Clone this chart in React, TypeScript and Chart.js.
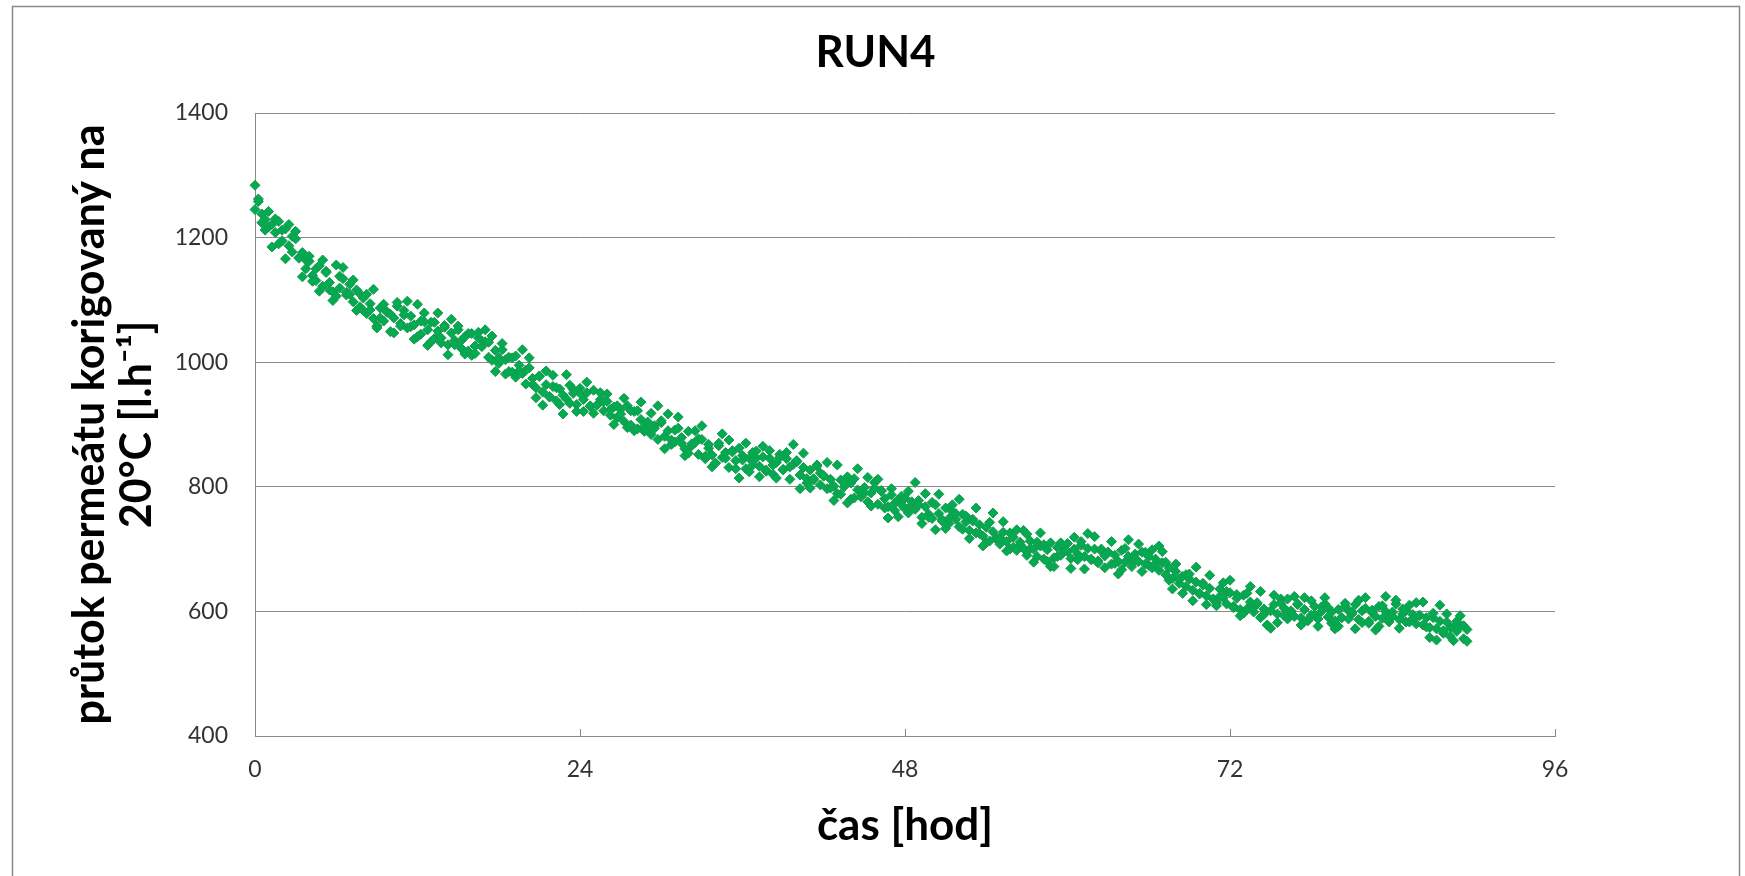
import { useEffect, useRef } from "react";
import { Chart, registerables } from "chart.js";

Chart.register(...registerables);

const CHART_TITLE = "RUN4";
const X_TITLE = "čas [hod]";
const Y_TITLE = ["průtok permeátu korigovaný na", "20°C [l.h⁻¹]"];
const X_TICKS = [0, 24, 48, 72, 96];
const Y_TICKS = [400, 600, 800, 1000, 1200, 1400];

// measurement time [h]
const TIME_H = [
  0, 0.25, 0.5, 0.75, 1, 1.25, 1.5, 1.75, 2, 2.25, 2.5, 2.75, 3, 3.25, 3.5, 3.75,
  4, 4.25, 4.5, 4.75, 5, 5.25, 5.5, 5.75, 6, 6.25, 6.5, 6.75, 7, 7.25, 7.5, 7.75,
  8, 8.25, 8.5, 8.75, 9, 9.25, 9.5, 9.75, 10, 10.25, 10.5, 10.75, 11, 11.25, 11.5, 11.75,
  12, 12.25, 12.5, 12.75, 13, 13.25, 13.5, 13.75, 14, 14.25, 14.5, 14.75, 15, 15.25, 15.5, 15.75,
  16, 16.25, 16.5, 16.75, 17, 17.25, 17.5, 17.75, 18, 18.25, 18.5, 18.75, 19, 19.25, 19.5, 19.75,
  20, 20.25, 20.5, 20.75, 21, 21.25, 21.5, 21.75, 22, 22.25, 22.5, 22.75, 23, 23.25, 23.5, 23.75,
  24, 24.25, 24.5, 24.75, 25, 25.25, 25.5, 25.75, 26, 26.25, 26.5, 26.75, 27, 27.25, 27.5, 27.75,
  28, 28.25, 28.5, 28.75, 29, 29.25, 29.5, 29.75, 30, 30.25, 30.5, 30.75, 31, 31.25, 31.5, 31.75,
  32, 32.25, 32.5, 32.75, 33, 33.25, 33.5, 33.75, 34, 34.25, 34.5, 34.75, 35, 35.25, 35.5, 35.75,
  36, 36.25, 36.5, 36.75, 37, 37.25, 37.5, 37.75, 38, 38.25, 38.5, 38.75, 39, 39.25, 39.5, 39.75,
  40, 40.25, 40.5, 40.75, 41, 41.25, 41.5, 41.75, 42, 42.25, 42.5, 42.75, 43, 43.25, 43.5, 43.75,
  44, 44.25, 44.5, 44.75, 45, 45.25, 45.5, 45.75, 46, 46.25, 46.5, 46.75, 47, 47.25, 47.5, 47.75,
  48, 48.25, 48.5, 48.75, 49, 49.25, 49.5, 49.75, 50, 50.25, 50.5, 50.75, 51, 51.25, 51.5, 51.75,
  52, 52.25, 52.5, 52.75, 53, 53.25, 53.5, 53.75, 54, 54.25, 54.5, 54.75, 55, 55.25, 55.5, 55.75,
  56, 56.25, 56.5, 56.75, 57, 57.25, 57.5, 57.75, 58, 58.25, 58.5, 58.75, 59, 59.25, 59.5, 59.75,
  60, 60.25, 60.5, 60.75, 61, 61.25, 61.5, 61.75, 62, 62.25, 62.5, 62.75, 63, 63.25, 63.5, 63.75,
  64, 64.25, 64.5, 64.75, 65, 65.25, 65.5, 65.75, 66, 66.25, 66.5, 66.75, 67, 67.25, 67.5, 67.75,
  68, 68.25, 68.5, 68.75, 69, 69.25, 69.5, 69.75, 70, 70.25, 70.5, 70.75, 71, 71.25, 71.5, 71.75,
  72, 72.25, 72.5, 72.75, 73, 73.25, 73.5, 73.75, 74, 74.25, 74.5, 74.75, 75, 75.25, 75.5, 75.75,
  76, 76.25, 76.5, 76.75, 77, 77.25, 77.5, 77.75, 78, 78.25, 78.5, 78.75, 79, 79.25, 79.5, 79.75,
  80, 80.25, 80.5, 80.75, 81, 81.25, 81.5, 81.75, 82, 82.25, 82.5, 82.75, 83, 83.25, 83.5, 83.75,
  84, 84.25, 84.5, 84.75, 85, 85.25, 85.5, 85.75, 86, 86.25, 86.5, 86.75, 87, 87.25, 87.5, 87.75,
  88, 88.25, 88.5, 88.75, 89, 89.25, 89.5,
];

// permeate flow corrected to 20 °C [l/h], reading A
const FLOW = [
  1284, 1262, 1238, 1229, 1242, 1221, 1208, 1226, 1195, 1214, 1187, 1202, 1210, 1168, 1176, 1150,
  1162, 1139, 1131, 1155, 1122, 1146, 1128, 1113, 1156, 1119, 1134, 1108, 1125, 1097, 1116, 1089,
  1103, 1078, 1094, 1070, 1058, 1087, 1066, 1081, 1049, 1071, 1090, 1062, 1083, 1055, 1074, 1060,
  1041, 1066, 1079, 1052, 1064, 1038, 1050, 1031, 1059, 1028, 1047, 1035, 1052, 1022, 1041, 1018,
  1046, 1014, 1039, 1025, 1033, 1008, 1042, 1019, 998, 1020, 1004, 985, 1007, 976, 995, 982,
  965, 991, 974, 959, 978, 952, 964, 945, 961, 938, 957, 947, 941, 963, 950, 932,
  958, 940, 951, 929, 955, 931, 940, 922, 937, 915, 928, 911, 924, 905, 930, 899,
  921, 893, 908, 889, 904, 884, 898, 876, 903, 881, 890, 868, 872, 894, 879, 861,
  889, 866, 871, 852, 876, 845, 862, 851, 838, 866, 847, 855, 831, 858, 842, 862,
  850, 829, 846, 835, 857, 833, 848, 825, 846, 820, 839, 852, 828, 845, 812, 836,
  840, 819, 831, 806, 827, 811, 833, 803, 818, 797, 812, 801, 789, 811, 800, 816,
  806, 782, 795, 784, 799, 776, 790, 807, 772, 794, 781, 768, 787, 762, 779, 771,
  782, 758, 776, 764, 778, 751, 768, 756, 749, 771, 757, 745, 766, 741, 760, 748,
  736, 756, 744, 730, 748, 726, 739, 721, 735, 713, 728, 716, 708, 727, 712, 700,
  719, 698, 711, 701, 690, 713, 700, 688, 705, 684, 699, 710, 686, 703, 690, 698,
  709, 685, 700, 692, 706, 688, 701, 683, 700, 681, 697, 689, 695, 676, 690, 680,
  698, 679, 688, 672, 692, 680, 695, 676, 688, 670, 684, 666, 678, 659, 670, 653,
  664, 645, 656, 640, 652, 634, 647, 628, 645, 625, 637, 620, 614, 636, 622, 612,
  630, 608, 621, 603, 626, 604, 615, 599, 612, 590, 604, 578, 573, 611, 596, 620,
  605, 588, 601, 592, 611, 590, 603, 585, 594, 608, 588, 600, 612, 591, 599, 585,
  603, 590, 608, 588, 596, 611, 587, 601, 605, 584, 598, 592, 608, 589, 600, 583,
  599, 612, 587, 596, 602, 583, 595, 580, 593, 578, 590, 574, 590, 572, 584, 565,
  583, 560, 575, 568, 577, 556, 571,
];

// permeate flow corrected to 20 °C [l/h], reading B
const FLOW_B = [
  1245, 1258, 1224, 1212, 1217, 1185, 1230, 1190, 1212, 1166, 1221, 1177, 1198, 1167, 1137, 1164,
  1170, 1130, 1150, 1114, 1164, 1144, 1116, 1099, 1106, 1138, 1152, 1112, 1109, 1132, 1083, 1110,
  1083, 1109, 1084, 1117, 1055, 1071, 1093, 1080, 1077, 1047, 1096, 1058, 1076, 1098, 1057, 1037,
  1093, 1045, 1065, 1027, 1033, 1064, 1079, 1039, 1056, 1012, 1069, 1028, 1058, 1035, 1013, 1046,
  1011, 1026, 1048, 1034, 1052, 1032, 1003, 985, 1007, 1030, 981, 1008, 984, 1010, 986, 1020,
  987, 1007, 964, 943, 977, 931, 986, 944, 979, 959, 932, 917, 980, 934, 956, 921,
  950, 921, 968, 930, 918, 931, 951, 937, 949, 924, 900, 930, 917, 942, 895, 922,
  890, 922, 936, 897, 891, 918, 894, 930, 906, 861, 917, 875, 891, 912, 870, 850,
  854, 869, 890, 877, 898, 849, 868, 832, 838, 870, 885, 846, 875, 856, 829, 814,
  843, 870, 824, 855, 846, 816, 865, 827, 858, 835, 814, 847, 827, 855, 832, 868,
  842, 797, 854, 813, 798, 813, 835, 822, 817, 839, 798, 778, 835, 788, 809, 774,
  780, 813, 829, 791, 790, 815, 769, 798, 812, 793, 766, 750, 797, 774, 752, 785,
  765, 793, 771, 807, 771, 741, 789, 751, 775, 731, 788, 747, 733, 749, 771, 757,
  780, 732, 753, 717, 745, 766, 725, 705, 710, 743, 758, 719, 718, 744, 697, 726,
  703, 731, 707, 730, 724, 701, 679, 711, 726, 707, 680, 672, 672, 688, 710, 698,
  696, 669, 719, 683, 712, 668, 725, 684, 720, 678, 700, 670, 695, 712, 677, 660,
  667, 701, 715, 680, 683, 708, 664, 695, 674, 699, 677, 705, 696, 679, 650, 636,
  676, 652, 629, 659, 660, 617, 671, 629, 642, 611, 658, 620, 609, 624, 646, 632,
  650, 606, 627, 593, 597, 629, 640, 606, 614, 632, 595, 578, 601, 626, 582, 613,
  593, 620, 599, 624, 612, 578, 622, 586, 617, 595, 576, 607, 622, 606, 581, 572,
  576, 590, 613, 601, 599, 572, 618, 582, 622, 581, 602, 570, 576, 609, 624, 589,
  592, 618, 573, 604, 583, 610, 588, 614, 594, 615, 575, 558, 597, 554, 610, 569,
  596, 574, 553, 584, 593, 577, 552,
];

const FONT = "Lato, 'Open Sans', 'DejaVu Sans', sans-serif";
const GRID = "#898989";
const W = 1745;
const H = 876;

const frame = {
  id: "frame",
  beforeDraw(chart: any) {
    const ctx = chart.ctx;
    ctx.save();
    ctx.fillStyle = "#ffffff";
    ctx.fillRect(0, 0, chart.width, chart.height);
    ctx.strokeStyle = "#8a8a8a";
    ctx.lineWidth = 1.5;
    ctx.beginPath();
    ctx.moveTo(12.5, chart.height);
    ctx.lineTo(12.5, 6.5);
    ctx.lineTo(1739.5, 6.5);
    ctx.lineTo(1739.5, chart.height);
    ctx.stroke();
    ctx.restore();
  },
};

const innerTicks = {
  id: "innerTicks",
  beforeDatasetsDraw(chart: any) {
    const xs = chart.scales.x;
    const ctx = chart.ctx;
    const bottom = chart.chartArea.bottom;
    ctx.save();
    ctx.strokeStyle = GRID;
    ctx.lineWidth = 1;
    xs.ticks.forEach((t: any) => {
      const px = Math.round(xs.getPixelForValue(t.value)) + 0.5;
      ctx.beginPath();
      ctx.moveTo(px, bottom);
      ctx.lineTo(px, bottom - 7);
      ctx.stroke();
    });
    ctx.restore();
  },
};

export default function App() {
  const ref = useRef<HTMLCanvasElement | null>(null);

  useEffect(() => {
    if (!ref.current) return;
    const points = TIME_H.flatMap((t, i) => [
      { x: t, y: FLOW[i] },
      { x: t, y: FLOW_B[i] },
    ]);
    const chart = new Chart(ref.current, {
      type: "scatter",
      data: {
        datasets: [
          {
            label: CHART_TITLE,
            data: points,
            pointStyle: "rectRot",
            pointRadius: 5,
            pointBackgroundColor: "#00AC4F",
            pointBorderColor: "#1E9650",
            pointBorderWidth: 1,
            clip: false,
          } as any,
        ],
      },
      options: {
        responsive: false,
        animation: false,
        devicePixelRatio: 1,
        layout: { padding: { left: 6, right: 0, top: 0, bottom: 0 } },
        plugins: {
          legend: { display: false },
          tooltip: { enabled: false },
          title: {
            display: true,
            text: CHART_TITLE,
            color: "#000000",
            font: { family: FONT, size: 44, weight: "bold", lineHeight: 1.2 },
            padding: { top: 26, bottom: 34.2 },
          },
        },
        scales: {
          x: {
            type: "linear",
            min: 0,
            max: 96,
            afterBuildTicks: (s: any) => {
              s.ticks = X_TICKS.map((v) => ({ value: v }));
            },
            afterFit: (s: any) => {
              s.height = H - 736;
            },
            grid: { drawOnChartArea: false, drawTicks: false },
            border: { display: true, color: GRID, width: 1 },
            ticks: {
              padding: 20,
              color: "#333333",
              font: { family: FONT, size: 23 },
              maxRotation: 0,
              callback: (v: any) => String(v),
            },
            title: {
              display: true,
              text: X_TITLE,
              color: "#000000",
              font: { family: FONT, size: 44, weight: "bold", lineHeight: 1.2 },
              padding: { top: 0, bottom: 24 },
            },
          },
          y: {
            type: "linear",
            min: 400,
            max: 1400,
            afterBuildTicks: (s: any) => {
              s.ticks = Y_TICKS.map((v) => ({ value: v }));
            },
            afterFit: (s: any) => {
              s.width = 255 - 6;
            },
            grid: { color: GRID, lineWidth: 1, drawTicks: false },
            border: { display: true, color: GRID, width: 1 },
            ticks: {
              padding: 27,
              color: "#333333",
              font: { family: FONT, size: 23 },
              callback: (v: any) => String(v),
            },
            title: {
              display: true,
              text: Y_TITLE,
              color: "#000000",
              font: { family: FONT, size: 43, weight: "bold", lineHeight: 1.1 },
              padding: { top: 60, bottom: 0 },
            },
          },
          yRight: {
            type: "linear",
            position: "right",
            display: true,
            grid: { display: false, drawTicks: false },
            border: { display: false },
            ticks: { display: false },
            afterFit: (s: any) => {
              s.width = W - 1555;
            },
          },
        },
      } as any,
      plugins: [frame, innerTicks],
    });
    return () => chart.destroy();
  }, []);

  return (
    <div style={{ position: "fixed", left: 0, top: 0, width: W, height: H, background: "#fff" }}>
      <canvas ref={ref} width={W} height={H} style={{ display: "block", width: W, height: H }} />
    </div>
  );
}
